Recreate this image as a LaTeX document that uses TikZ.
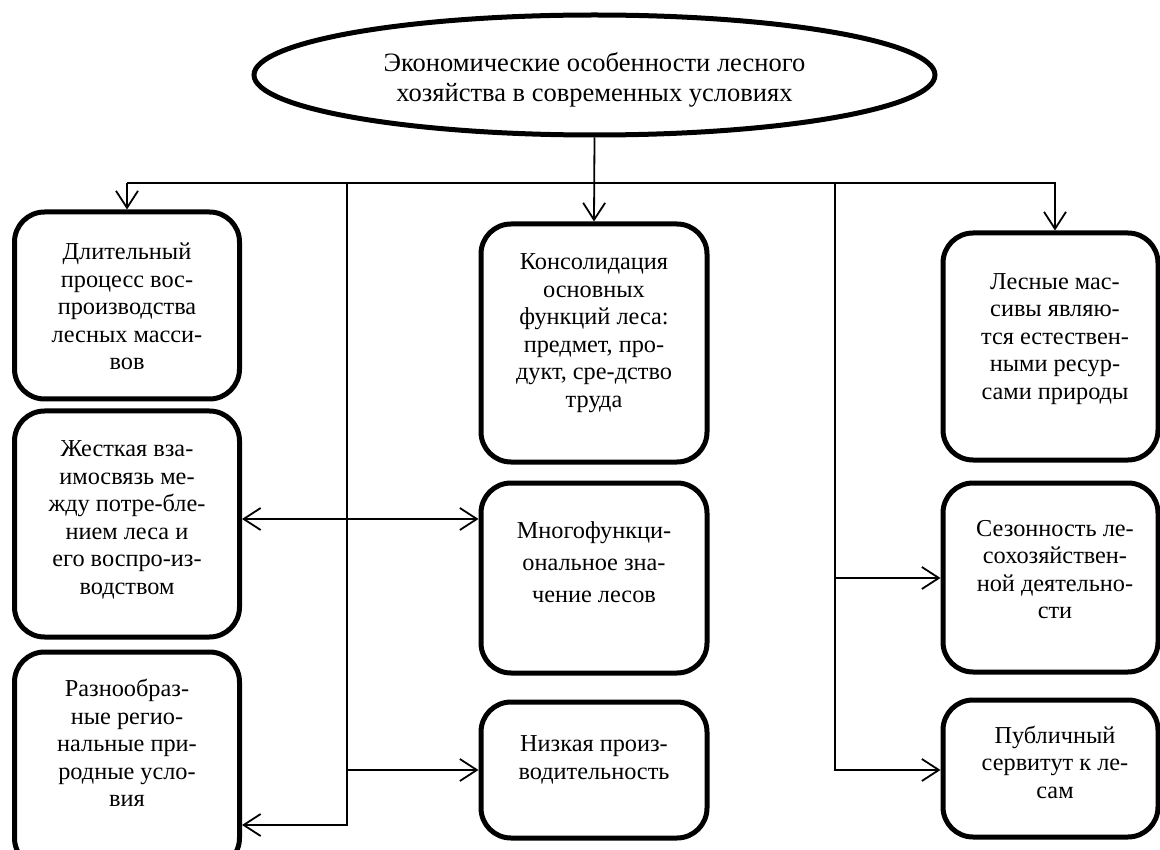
\documentclass[tikz,border=0pt]{standalone}
\usepackage{fontspec}
\setmainfont{Liberation Serif}
\usetikzlibrary{shapes.geometric,arrows.meta}
\begin{document}
\begin{tikzpicture}[x=1pt,y=-1pt,
  box/.style={draw, line width=5pt, rounded corners=30pt, inner sep=0pt},
  oval/.style={draw, ellipse, line width=5pt, inner sep=0pt},
  lbl/.style={anchor=north, align=center, inner sep=0pt, font=\fontsize{24.3pt}{27.5pt}\selectfont},
  conn/.style={line width=1.8pt},
  arr/.style={conn, -{Straight Barb[length=17pt,width=22pt]}},
  darr/.style={conn, {Straight Barb[length=17pt,width=22pt]}-{Straight Barb[length=17pt,width=22pt]}}]
\useasboundingbox (0,0) rectangle (1160,850);
\fill[white] (0,0) rectangle (1160,850);
\begin{scope}
\clip (0,0) rectangle (1160,850);
% top ellipse
\node[oval, minimum width=681pt, minimum height=120pt] (E) at (594.5,75) {};
\node[lbl, font=\fontsize{26.5pt}{30pt}\selectfont] (tE) at (594.5,49.9) {\strut Экономические особенности лесного\\хозяйства в современных условиях};
% left column
\node[box, minimum width=225pt, minimum height=187pt] (L1) at (127,305.5) {};
\node[box, minimum width=225pt, minimum height=226pt] (L2) at (127,524) {};
\node[box, minimum width=225pt, minimum height=216pt] (L3) at (127,760) {};
% centre column
\node[box, minimum width=226pt, minimum height=238pt] (C1) at (594,343) {};
\node[box, minimum width=226pt, minimum height=190pt] (C2) at (594,578) {};
\node[box, minimum width=226pt, minimum height=136pt] (C3) at (594,770) {};
% right column
\node[box, minimum width=215pt, minimum height=227pt] (R1) at (1050.5,346.5) {};
\node[box, minimum width=215pt, minimum height=189pt] (R2) at (1050.5,577.5) {};
\node[box, minimum width=215pt, minimum height=137pt] (R3) at (1050.5,768.5) {};
% texts
\node[lbl] (tL1) at (127,240.5) {\strut Длительный\\процесс вос-\\производства\\лесных масси-\\вов};
\node[lbl] (tL2) at (127,437.5) {\strut Жесткая вза-\\имосвязь ме-\\жду потре-бле-\\нием леса и\\его воспро-из-\\водством};
\node[lbl] (tL3) at (127,677.5) {\strut Разнообраз-\\ные регио-\\нальные при-\\родные усло-\\вия};
\node[lbl] (tC1) at (594,250.5) {\strut Консолидация\\основных\\функций леса:\\предмет, про-\\дукт, сре-дство\\труда};
\node[lbl, font=\fontsize{24.3pt}{32pt}\selectfont] (tC2) at (594,516) {\strut Многофункци-\\ональное зна-\\чение лесов};
\node[lbl] (tC3) at (594,732.5) {\strut Низкая произ-\\водительность};
\node[lbl] (tR1) at (1055,270) {\strut Лесные мас-\\сивы являю-\\тся естествен-\\ными ресур-\\сами природы};
\node[lbl] (tR2) at (1055,517) {\strut Сезонность ле-\\сохозяйствен-\\ной деятельно-\\сти};
\node[lbl] (tR3) at (1055,724) {\strut Публичный\\сервитут к ле-\\сам};
% connector coordinates
\coordinate (hL) at (127,183);
\coordinate (hR) at (1055,183);
\coordinate (dR) at (hR |- R1.north);
\coordinate (vL) at (347,183);
\coordinate (vLc) at (347,770);
\coordinate (vLb) at (347,825);
\coordinate (yA) at (347,519);
\coordinate (vR) at (835,183);
\coordinate (vRa) at (835,578);
\coordinate (vRb) at (835,770);
% connectors
\draw[arr] (E.south) -- (C1.north);
\draw[arr] (hL) -- (hR) -- (dR);
\draw[arr] (hL) -- (L1.north);
\draw[arr] (vL) -- (vLb) -- (vLb -| L3.east);
\draw[darr] (yA -| L2.east) -- (yA -| C2.west);
\draw[arr] (vLc) -- (vLc -| C3.west);
\draw[arr] (vR) -- (vRb) -- (vRb -| R3.west);
\draw[arr] (vRa) -- (vRa -| R2.west);
\end{scope}
\end{tikzpicture}
\end{document}
